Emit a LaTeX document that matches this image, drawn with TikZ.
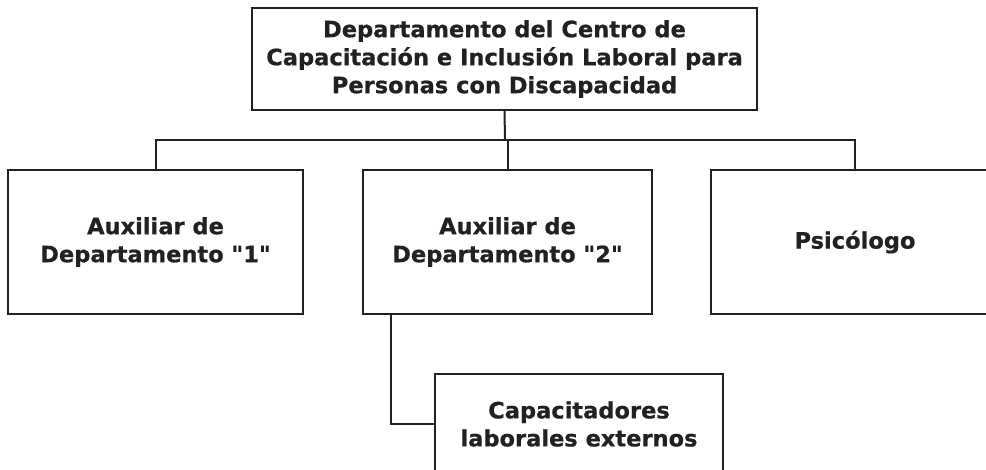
\documentclass[tikz,border=0pt]{standalone}
\usepackage{fontspec}
\setmainfont{DejaVu Sans}[BoldFeatures={FakeBold=0.6}]
\begin{document}
\begin{tikzpicture}[x=0.75pt,y=-0.75pt,
  box/.style={draw=black!87,line width=1.5pt,align=center,font=\bfseries\fontsize{16.9}{21}\selectfont,text=black!87,inner sep=0pt},
  link/.style={draw=black!87,line width=1.5pt}]
\useasboundingbox (0,0) rectangle (986,469);
\clip (0,0) rectangle (986,469);
\node[box,minimum width=505*0.75pt,minimum height=102*0.75pt] (top) at (504.5,59) {Departamento del Centro de\\Capacitación e Inclusión Laboral para\\Personas con Discapacidad};
\node[box,minimum width=295*0.75pt,minimum height=144*0.75pt] (b1) at (155.5,242) {Auxiliar de\\Departamento \textquotedbl 1\textquotedbl};
\node[box,minimum width=289*0.75pt,minimum height=144*0.75pt] (b2) at (507.5,242) {Auxiliar de\\Departamento \textquotedbl 2\textquotedbl};
\node[box,minimum width=288*0.75pt,minimum height=144*0.75pt] (b3) at (855,242) {Psicólogo};
\node[box,minimum width=288*0.75pt,minimum height=100*0.75pt] (b4) at (579,424) {Capacitadores\\laborales externos};
\coordinate (bus) at (505,140);
\draw[link] (top.south) -- (bus);
\draw[link] (b1.north) -- (b1.north |- bus) -- (b3.north |- bus) -- (b3.north);
\draw[link] (b2.north) -- (b2.north |- bus);
\draw[link] ([xshift=29*0.75pt]b2.south west) |- (b4.west);
\end{tikzpicture}
\end{document}
